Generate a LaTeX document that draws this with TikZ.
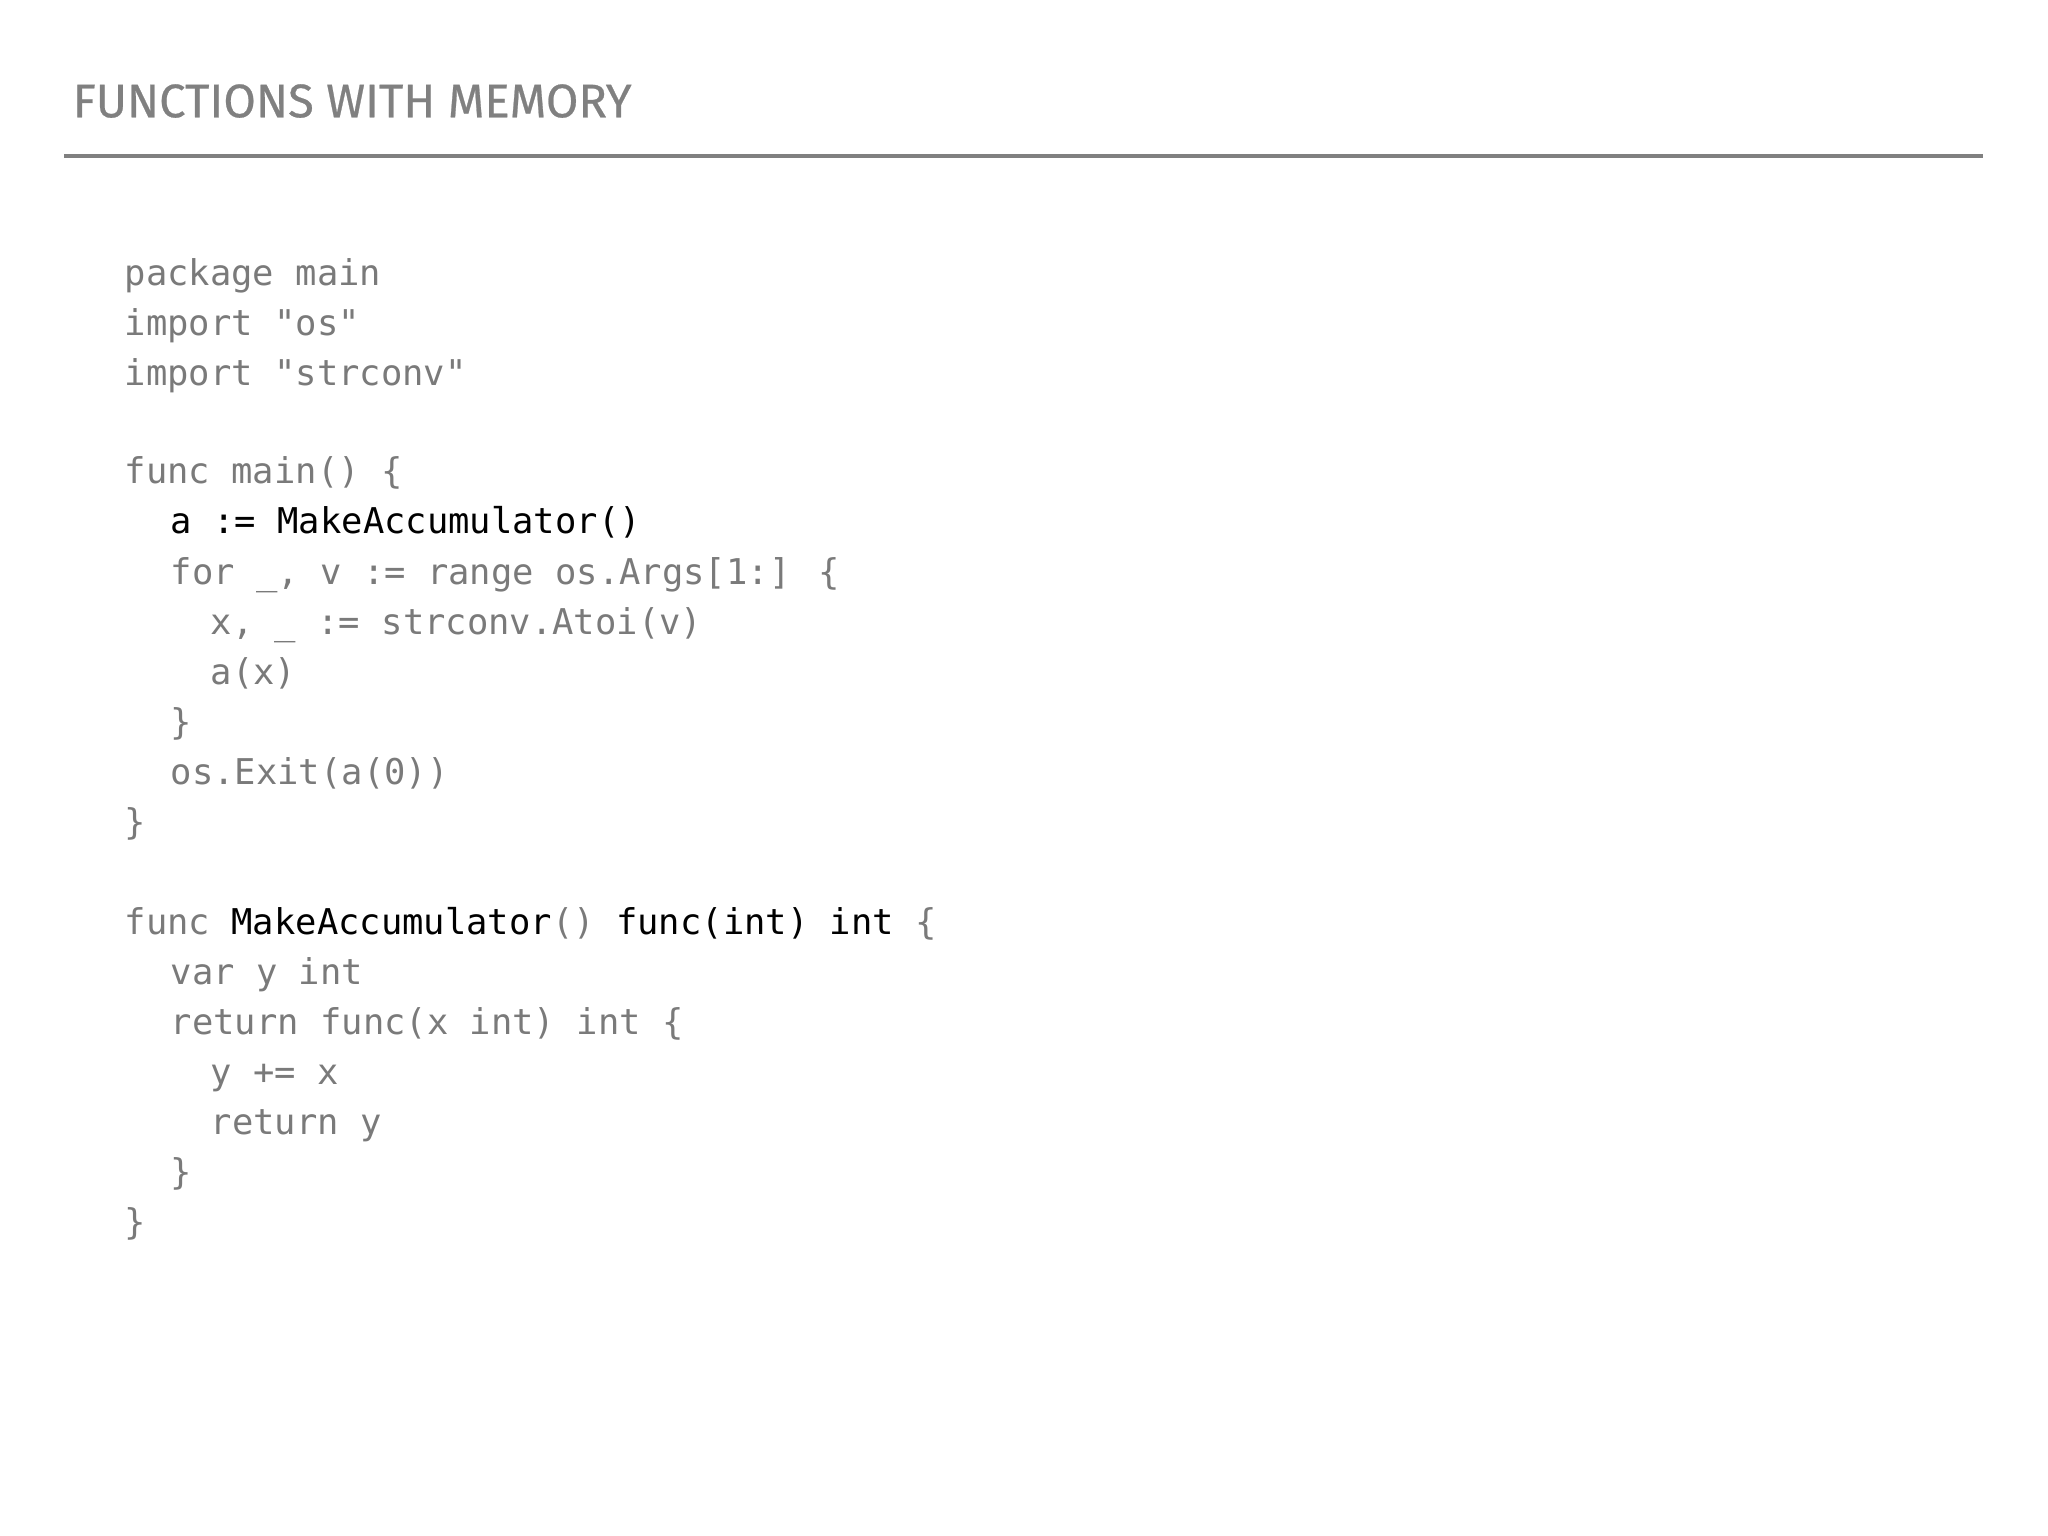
\documentclass[tikz,border=0pt]{standalone}
\usepackage{fontspec}
\setmainfont{Fira Sans}
\newfontfamily\codefont{DejaVu Sans Mono}
\definecolor{codegray}{HTML}{7A7A7A}
\definecolor{titlegray}{HTML}{808080}
\begin{document}
\begin{tikzpicture}[
    every node/.style={inner sep=0pt, anchor=mid west},
    code/.style={font=\codefont\fontsize{10.1}{12}\selectfont, text=codegray},
    hl/.style={code, text=black}]
    \useasboundingbox (0,0) rectangle (20.48,-15.36);

    % Title
    \node[font=\fontsize{13.4}{16}\selectfont\addfontfeatures{FakeBold=0.5}, text=titlegray] (title) at (0.72,-1.08) {FUNCTIONS WITH MEMORY};
    \draw[titlegray, line width=1.3pt] (0.64,-1.56) -- (19.83,-1.56);

    % Code
    \node[code] (l1) at (1.24,-2.76) {package main};
    \node[code] (l2) at (1.24,-3.26) {import "os"};
    \node[code] (l3) at (1.24,-3.76) {import "strconv"};
    \node[code] (l4) at (1.24,-4.74) {func main() \{};
    \node[hl] (l5) at (1.70,-5.24) {a := MakeAccumulator()};
    \node[code] (l6) at (1.70,-5.75) {for \_, v := range os.Args[1:] \{};
    \node[code] (l7) at (2.10,-6.25) {x, \_ := strconv.Atoi(v)};
    \node[code] (l8) at (2.10,-6.75) {a(x)};
    \node[code] (l9) at (1.70,-7.25) {\}};
    \node[code] (l10) at (1.70,-7.75) {os.Exit(a(0))};
    \node[code] (l11) at (1.24,-8.25) {\}};
    \node[code] (l12) at (1.24,-9.25) {func \textcolor{black}{MakeAccumulator}() \textcolor{black}{func(int) int} \{};
    \node[code] (l13) at (1.70,-9.75) {var y int};
    \node[code] (l14) at (1.70,-10.25) {return func(x int) int \{};
    \node[code] (l15) at (2.10,-10.75) {y += x};
    \node[code] (l16) at (2.10,-11.25) {return y};
    \node[code] (l17) at (1.70,-11.75) {\}};
    \node[code] (l18) at (1.24,-12.25) {\}};
\end{tikzpicture}
\end{document}
